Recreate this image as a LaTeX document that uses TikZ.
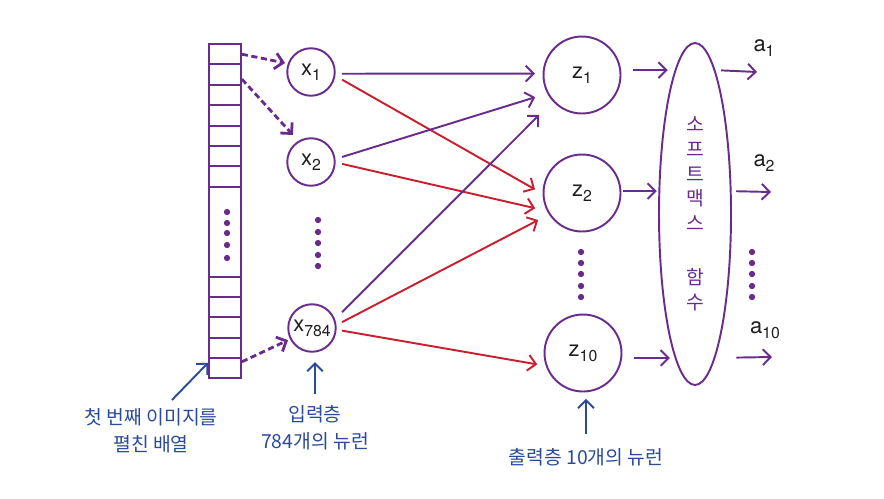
\documentclass[tikz,border=0pt]{standalone}
\usepackage{fontspec}
\setmainfont{TeX Gyre Heros}
\newfontfamily\krfont{Noto Sans CJK KR}
\usepackage{xcolor}
\usepackage{tikz}
\usetikzlibrary{arrows.meta,positioning,shapes.geometric}
\definecolor{nnpurple}{HTML}{6A2C8C}
\definecolor{nnred}{HTML}{C8202F}
\definecolor{nnblue}{HTML}{2C4A9A}
\definecolor{nnink}{HTML}{1E1E1E}
\newcommand{\nsub}[2]{#1\raisebox{-3pt}{\fontsize{9}{10}\selectfont #2}}
\tikzset{
  neu/.style={circle, draw=nnpurple, line width=1.1pt, minimum size=.95cm, inner sep=0pt, text=nnink, font=\fontsize{12.5}{14}\selectfont},
  neuz/.style={neu, minimum size=1.54cm},
  cell/.style={draw=nnpurple, line width=1pt, minimum width=.64cm, minimum height=.406cm, inner sep=0pt},
  smx/.style={ellipse, draw=nnpurple, line width=1.1pt, minimum width=1.44cm, minimum height=6.84cm, inner sep=0pt, align=center, text=nnpurple, font=\krfont\fontsize{11}{14}\selectfont},
  tip/.style={-{Straight Barb[length=4.5pt,width=9pt]}, line width=1.1pt},
  arp/.style={tip, draw=nnpurple},
  arr/.style={tip, draw=nnred},
  arb/.style={tip, draw=nnblue},
  dsh/.style={arp, line width=1.6pt, dash pattern=on 3.5pt off 2pt},
  dotp/.style={fill=nnpurple},
  krl/.style={align=center, text=nnblue, font=\krfont\fontsize{11}{15.4}\selectfont},
  outl/.style={text=nnink, font=\fontsize{12.5}{14}\selectfont},
}

\begin{document}
\begin{tikzpicture}[x=.02cm, y=-.02cm]
  \useasboundingbox (0,0) rectangle (884,498);
  \foreach \i in {1,...,7}{ \node[cell] (c\i) at (225,{33.8+20.4*\i}) {}; }
  \node[cell, minimum height=1.8cm] (cm) at (225,232) {};
  \foreach \i in {1,...,5}{ \node[cell] (b\i) at (225,{266.9+20.2*\i}) {}; }
  \foreach \y in {212,223,233,245,258}{ \fill[dotp] (227,\y) circle (1.8pt); }

  \node[neu] (x1) at (311,72) {\nsub{x}{1}};
  \node[neu] (x2) at (311,162) {\nsub{x}{2}};
  \node[neu] (x784) at (312,328) {\nsub{x}{784}};
  \foreach \y in {220,232,243,255,266}{ \fill[dotp] (318,\y) circle (1.8pt); }

  \node[neuz] (z1) at (582,75) {\nsub{z}{1}};
  \node[neuz] (z2) at (582,193) {\nsub{z}{2}};
  \node[neuz] (z10) at (583,353) {\nsub{z}{10}};
  \foreach \y in {252,263,274,286,297}{ \fill[dotp] (581,\y) circle (1.8pt); \fill[dotp] (752,\y) circle (1.8pt); }

  \node[smx] (sm) at (695,214) {소\\프\\트\\맥\\스\\[17pt]함\\수};

  \node[outl] (a1) at (764,48) {\nsub{a}{1}};
  \node[outl] (a2) at (764,163) {\nsub{a}{2}};
  \node[outl] (a10) at (765,330) {\nsub{a}{10}};
  \coordinate (o1) at (757,72);
  \coordinate (o2) at (771,192);
  \coordinate (o10) at (772,357);

  \draw[dsh, shorten >=1.6pt] (c1.east) -- (x1.160);
  \draw[dsh, shorten >=4.5pt] (c2.-15) -- (x2.121);
  \draw[dsh, shorten >=1.2pt] (b5.20) -- (x784.-153);

  \draw[arp, shorten <=3.6pt, shorten >=4.3pt] (x1.-4.6) -- (z1.178.5);
  \draw[arr, shorten <=4.4pt, shorten >=4.9pt] (x1.-9.8) -- (z2.181.9);
  \draw[arp, shorten <=3.9pt, shorten >=7.1pt] (x2.7) -- (z1.-152.4);
  \draw[arr, shorten <=3.7pt, shorten >=6.8pt] (x2.-1.4) -- (z2.-153.4);
  \draw[arp, shorten <=5.6pt, shorten >=10.9pt] (x784.21.4) -- (z1.-138.1);
  \draw[arr, shorten <=3.5pt, shorten >=6.9pt] (x784.7.2) -- (z2.-147.2);
  \draw[arr, shorten <=3.1pt, shorten >=4.9pt] (x784.-4.9) -- (z10.-161.7);

  \draw[arp, shorten <=6.3pt, shorten >=4pt] (z1.east |- sm.98) -- (sm.98);
  \draw[arp, shorten <=.6pt, shorten >=.9pt] (z2.east |- sm.148) -- (sm.148);
  \draw[arp, shorten <=6.5pt, shorten >=2.8pt] (z10.east |- sm.-98) -- (sm.-98);
  \draw[arp, shorten <=3.4pt] (sm.82) -- (o1);
  \draw[arp, shorten <=2.6pt] (sm.32) -- (o2);
  \draw[arp, shorten <=12pt] (sm.-82) -- (o10);

  \node[krl] (lbl1) at (151,431) {첫 번째 이미지를\\펼친 배열};
  \node[krl] (lbl2) at (315,428) {입력층\\784개의 뉴런};
  \node[krl] (lbl3) at (586,457) {출력층 10개의 뉴런};
  \draw[arb, shorten <=2pt] (lbl1.57) -- (b5.163);
  \draw[arb, shorten <=3pt, shorten >=5.3pt] (lbl2.north) -- (lbl2.north |- x784.south);
  \draw[arb, shorten <=4.5pt, shorten >=3.7pt] (lbl3.north) -- (lbl3.north |- z10.south);
\end{tikzpicture}
\end{document}
